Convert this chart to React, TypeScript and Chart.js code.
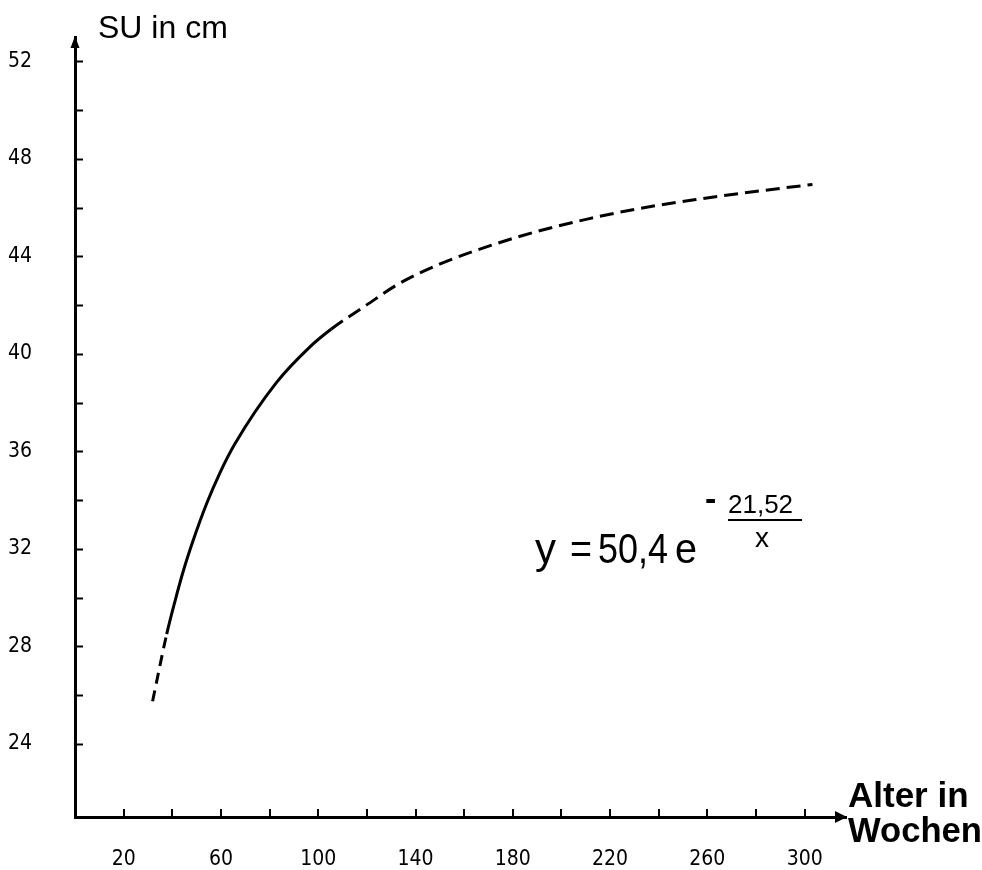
import React, { useEffect, useRef } from 'react';
import { Chart, registerables } from 'chart.js';

Chart.register(...registerables);

// Curve: age in weeks -> SU in cm
const ageWeeks = [31.9, 37.7, 41.1, 44.5, 48.6, 54.1, 59.5, 65.7, 82.8, 96.5, 105.4, 119.8, 133.2, 149.9, 170.4, 191, 211.5, 230.7, 255.3, 282.7, 303.2];
const suCm = [25.75, 28.5, 29.85, 31.08, 32.35, 33.85, 35.1, 36.3, 38.82, 40.28, 41.02, 42.0, 42.88, 43.68, 44.43, 45.05, 45.55, 45.94, 46.33, 46.7, 46.95];
// solid (observed) part of the curve, the rest is dashed (extrapolated)
const solidFromWeek = 37.7;
const solidToWeek = 105.4;

const xTickValues = [20, 40, 60, 80, 100, 120, 140, 160, 180, 200, 220, 240, 260, 280, 300];
const xLabelValues = [20, 60, 100, 140, 180, 220, 260, 300];
const yTickValues = [24, 26, 28, 30, 32, 34, 36, 38, 40, 42, 44, 46, 48, 50, 52];
const yLabelValues = [24, 28, 32, 36, 40, 44, 48, 52];

const yAxisTitle = 'SU in cm';
const xAxisTitle = ['Alter in', 'Wochen'];
const formulaParts = ['y', '=', '50,4', 'e'];
const exponentSign = '-';
const exponentNumerator = '21,52';
const exponentDenominator = 'x';

const TICK_FONT = "'Liberation Sans Narrow', 'DejaVu Sans Condensed', 'Liberation Sans', sans-serif";
const TEXT_FONT = "'Liberation Sans', Arial, sans-serif";

const decorPlugin = {
  id: 'decor',
  afterDraw(chart: any) {
    const { ctx, chartArea, scales } = chart;
    const xs = scales.x;
    const ys = scales.y;
    ctx.save();
    ctx.strokeStyle = '#000';
    ctx.fillStyle = '#000';
    ctx.lineWidth = 2;
    ctx.lineCap = 'butt';
    // tick marks (inside)
    yTickValues.forEach((v) => {
      const py = Math.round(ys.getPixelForValue(v)) + 0.5;
      ctx.beginPath();
      ctx.moveTo(chartArea.left, py);
      ctx.lineTo(chartArea.left + 8, py);
      ctx.stroke();
    });
    xTickValues.forEach((v) => {
      const px = Math.round(xs.getPixelForValue(v));
      ctx.beginPath();
      ctx.moveTo(px, chartArea.bottom);
      ctx.lineTo(px, chartArea.bottom - 8);
      ctx.stroke();
    });
    // arrow heads
    const ax = chartArea.left;
    const top = chartArea.top;
    ctx.beginPath();
    ctx.moveTo(ax, top - 1);
    ctx.lineTo(ax - 4.5, top + 11);
    ctx.lineTo(ax + 4.5, top + 11);
    ctx.closePath();
    ctx.fill();
    const right = chartArea.right;
    const by = chartArea.bottom;
    ctx.beginPath();
    ctx.moveTo(right + 1, by);
    ctx.lineTo(right - 11, by - 6);
    ctx.lineTo(right - 11, by + 6);
    ctx.closePath();
    ctx.fill();

    // axis titles
    ctx.textAlign = 'left';
    ctx.textBaseline = 'alphabetic';
    ctx.font = `32px ${TEXT_FONT}`;
    ctx.fillText(yAxisTitle, 98, 38);
    ctx.font = `bold 35px ${TEXT_FONT}`;
    ctx.fillText(xAxisTitle[0], 848, 807);
    ctx.fillText(xAxisTitle[1], 848, 842, 134);

    // formula
    ctx.font = `42px ${TEXT_FONT}`;
    ctx.fillText(formulaParts[0], 535, 563, 22);
    ctx.fillText(formulaParts[1], 570, 563, 22);
    ctx.fillText(formulaParts[2], 598, 563, 70);
    ctx.fillText(formulaParts[3], 675, 563, 22);
    ctx.font = `bold 34px ${TEXT_FONT}`;
    ctx.fillText(exponentSign, 705, 510, 13);
    ctx.font = `26px ${TEXT_FONT}`;
    ctx.fillText(exponentNumerator, 728, 513, 70);
    ctx.lineWidth = 2;
    ctx.beginPath();
    ctx.moveTo(728, 520);
    ctx.lineTo(802, 520);
    ctx.stroke();
    ctx.font = `28px ${TEXT_FONT}`;
    ctx.textAlign = 'center';
    ctx.fillText(exponentDenominator, 762, 547);
    ctx.restore();
  },
};

export default function App() {
  const canvasRef = useRef<HTMLCanvasElement | null>(null);

  useEffect(() => {
    if (!canvasRef.current) return;
    const chart = new Chart(canvasRef.current, {
      type: 'line',
      data: {
        datasets: [
          {
            data: ageWeeks.map((a, i) => ({ x: a, y: suCm[i] })),
            borderColor: '#000',
            borderWidth: 3,
            borderCapStyle: 'butt',
            pointRadius: 0,
            fill: false,
            cubicInterpolationMode: 'monotone',
            segment: {
              borderDash: (ctx: any) => {
                const a = ageWeeks[ctx.p0DataIndex];
                if (a < solidFromWeek) return [11, 7];
                if (a >= solidToWeek) return [14, 7];
                return [];
              },
            },
          } as any,
        ],
      },
      options: {
        responsive: false,
        animation: false,
        events: [],
        layout: { padding: { top: 37, right: 136, bottom: 0, left: 0 } },
        plugins: { legend: { display: false }, tooltip: { enabled: false }, title: { display: false } },
        scales: {
          x: {
            type: 'linear',
            min: 0,
            max: 317,
            position: 'bottom',
            afterFit: (s: any) => {
              s.height = 53;
              s.paddingLeft = 0;
              s.paddingRight = 0;
              s.paddingTop = 0;
              s.paddingBottom = 0;
            },
            afterBuildTicks: (s: any) => {
              s.ticks = xLabelValues.map((v) => ({ value: v }));
            },
            grid: { display: false, drawTicks: false },
            border: { display: true, color: '#000', width: 3 },
            ticks: {
              color: '#000',
              font: { family: TICK_FONT, size: 21 },
              padding: 30,
              maxRotation: 0,
              autoSkip: false,
              callback: (v: any) => String(v),
            },
          },
          y: {
            type: 'linear',
            min: 21,
            max: 53,
            position: 'left',
            afterFit: (s: any) => {
              s.width = 75;
              s.paddingLeft = 0;
              s.paddingRight = 0;
              s.paddingTop = 0;
              s.paddingBottom = 0;
            },
            afterBuildTicks: (s: any) => {
              s.ticks = yLabelValues.map((v) => ({ value: v }));
            },
            grid: { display: false, drawTicks: false },
            border: { display: true, color: '#000', width: 3 },
            ticks: {
              color: '#000',
              font: { family: TICK_FONT, size: 21 },
              padding: 43,
              autoSkip: false,
              callback: (v: any) => String(v),
            },
          },
        },
      },
      plugins: [decorPlugin],
    });
    return () => chart.destroy();
  }, []);

  return (
    <div style={{ position: 'absolute', left: 0, top: 0, width: 982, height: 870, background: '#fff' }}>
      <canvas ref={canvasRef} width={982} height={870} style={{ display: 'block' }} />
    </div>
  );
}
